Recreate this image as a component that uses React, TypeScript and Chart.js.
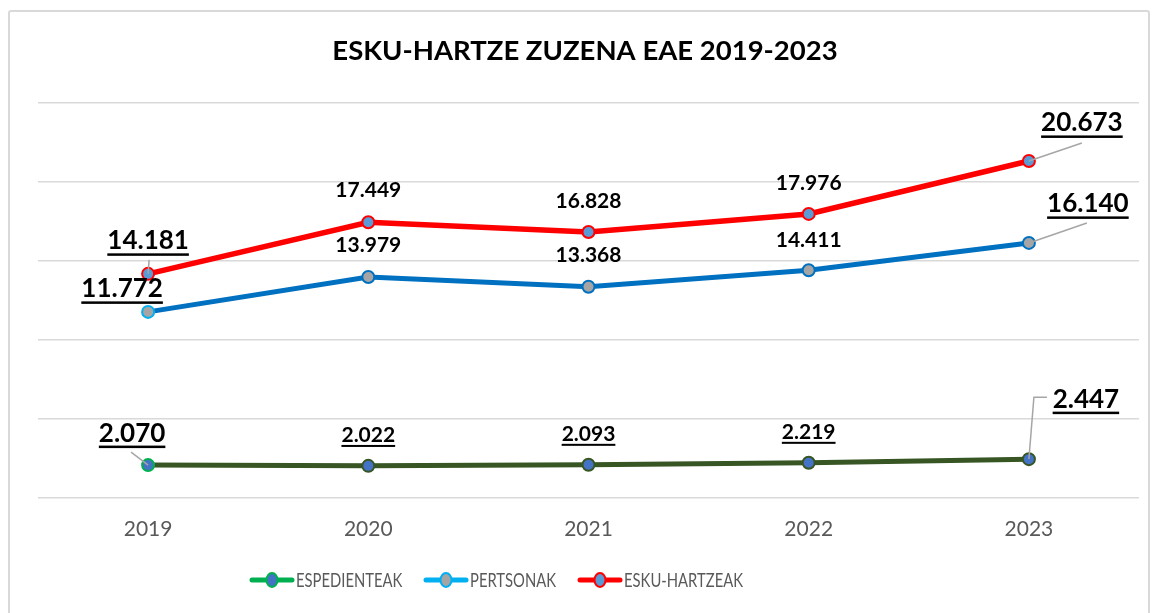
import React, { useEffect, useRef } from "react";
import { Chart, registerables } from "chart.js";

Chart.register(...registerables);

const YEARS = ["2019", "2020", "2021", "2022", "2023"];
const ESPEDIENTEAK = [2070, 2022, 2093, 2219, 2447];
const PERTSONAK = [11772, 13979, 13368, 14411, 16140];
const ESKU_HARTZEAK = [14181, 17449, 16828, 17976, 21330];
const ESPEDIENTEAK_LABELS = ["2.070", "2.022", "2.093", "2.219", "2.447"];
const PERTSONAK_LABELS = ["11.772", "13.979", "13.368", "14.411", "16.140"];
const ESKU_HARTZEAK_LABELS = ["14.181", "17.449", "16.828", "17.976", "20.673"];
const TITLE = "ESKU-HARTZE ZUZENA EAE 2019-2023";
const Y_MAX = 25000;
const Y_STEP = 5000;

const FONT = "Lato, 'Open Sans', sans-serif";

type LabelStyle = {
  dx: number;
  dy: number;
  size: number;
  underline: boolean;
  leader?: number[][];
};

const LABEL_STYLES: LabelStyle[][] = [
  [
    { dx: -16, dy: -32, size: 26, underline: true, leader: [[-17, -13], [0, 0]] },
    { dx: 0, dy: -31, size: 21, underline: true },
    { dx: 0, dy: -31, size: 21, underline: true },
    { dx: 0, dy: -31, size: 21, underline: true },
    { dx: 57, dy: -60, size: 26, underline: true, leader: [[18, -62], [5, -62], [0, 0]] },
  ],
  [
    { dx: -26, dy: -23, size: 26, underline: true },
    { dx: 0, dy: -32, size: 21, underline: false },
    { dx: 0, dy: -31, size: 21, underline: false },
    { dx: 0, dy: -30, size: 21, underline: false },
    { dx: 59, dy: -39, size: 26, underline: true, leader: [[58, -20], [0, 0]] },
  ],
  [
    { dx: 0, dy: -33, size: 26, underline: true, leader: [[1, -14], [0, 0]] },
    { dx: 0, dy: -32, size: 21, underline: false },
    { dx: 0, dy: -31, size: 21, underline: false },
    { dx: 0, dy: -31, size: 21, underline: false },
    { dx: 53, dy: -38, size: 26, underline: true, leader: [[53, -18], [0, 0]] },
  ],
];

const SERIES_LABELS = [ESPEDIENTEAK_LABELS, PERTSONAK_LABELS, ESKU_HARTZEAK_LABELS];

const LEGEND_ITEMS = [
  { text: "ESPEDIENTEAK", line: "#00b050", fill: "#4472c4", border: "#00b050" },
  { text: "PERTSONAK", line: "#00b0f0", fill: "#a5a5a5", border: "#00b0f0" },
  { text: "ESKU-HARTZEAK", line: "#ff0000", fill: "#5b9bd5", border: "#ff0000" },
];

const overlayPlugin = {
  id: "overlay",
  afterDatasetsDraw(chart: any) {
    const ctx = chart.ctx as CanvasRenderingContext2D;
    ctx.save();
    chart.data.datasets.forEach((_ds: any, di: number) => {
      const meta = chart.getDatasetMeta(di);
      meta.data.forEach((pt: any, i: number) => {
        const st = LABEL_STYLES[di][i];
        const txt = SERIES_LABELS[di][i];
        if (st.leader) {
          ctx.strokeStyle = "#a6a6a6";
          ctx.lineWidth = 1.5;
          ctx.beginPath();
          st.leader.forEach((p, k) => {
            const x = pt.x + p[0];
            const y = pt.y + p[1];
            if (k === 0) ctx.moveTo(x, y);
            else ctx.lineTo(x, y);
          });
          ctx.stroke();
        }
        const cx = pt.x + st.dx;
        const cy = pt.y + st.dy;
        ctx.font = `bold ${st.size}px ${FONT}`;
        ctx.fillStyle = "#000000";
        ctx.textAlign = "center";
        ctx.textBaseline = "middle";
        ctx.fillText(txt, cx, cy);
        if (st.underline) {
          const w = ctx.measureText(txt).width;
          ctx.fillRect(cx - w / 2, cy + st.size * 0.48, w, st.size > 22 ? 2.5 : 2);
        }
      });
    });
    ctx.restore();
  },
  afterDraw(chart: any) {
    const ctx = chart.ctx as CanvasRenderingContext2D;
    ctx.save();
    ctx.font = `bold 27.5px ${FONT}`;
    ctx.fillStyle = "#000000";
    ctx.textAlign = "center";
    ctx.textBaseline = "middle";
    ctx.fillText(TITLE, 575, 39);
    const y = 568;
    const starts = [242, 416, 570];
    LEGEND_ITEMS.forEach((it, i) => {
      const x0 = starts[i];
      ctx.strokeStyle = it.line;
      ctx.lineWidth = 5;
      ctx.lineCap = "round";
      ctx.beginPath();
      ctx.moveTo(x0, y);
      ctx.lineTo(x0 + 40, y);
      ctx.stroke();
      ctx.beginPath();
      ctx.fillStyle = it.fill;
      ctx.strokeStyle = it.border;
      ctx.lineWidth = 2;
      ctx.ellipse(x0 + 20, y, 5.5, 7, 0, 0, Math.PI * 2);
      ctx.fill();
      ctx.stroke();
      ctx.save();
      ctx.translate(x0 + 44, y + 1);
      ctx.scale(0.8, 1);
      ctx.font = `18.5px ${FONT}`;
      ctx.fillStyle = "#595959";
      ctx.textAlign = "left";
      ctx.textBaseline = "middle";
      ctx.fillText(it.text, 0, 0);
      ctx.restore();
    });
    ctx.restore();
  },
};

export default function App() {
  const ref = useRef<HTMLCanvasElement | null>(null);
  useEffect(() => {
    if (!ref.current) return;
    const chart = new Chart(ref.current, {
      type: "line",
      data: {
        labels: YEARS,
        datasets: [
          {
            label: "ESPEDIENTEAK",
            data: ESPEDIENTEAK,
            borderColor: "#375623",
            borderWidth: 5,
            pointBackgroundColor: "#4472c4",
            pointBorderColor: ["#00b050", "#375623", "#375623", "#375623", "#375623"],
            pointBorderWidth: 2,
            pointRadius: 6,
            tension: 0,
          },
          {
            label: "PERTSONAK",
            data: PERTSONAK,
            borderColor: "#0070c0",
            borderWidth: 5,
            pointBackgroundColor: "#a5a5a5",
            pointBorderColor: ["#00b0f0", "#0070c0", "#0070c0", "#0070c0", "#0070c0"],
            pointBorderWidth: 2,
            pointRadius: 6,
            tension: 0,
          },
          {
            label: "ESKU-HARTZEAK",
            data: ESKU_HARTZEAK,
            borderColor: "#ff0000",
            borderWidth: 5.5,
            pointBackgroundColor: "#5b9bd5",
            pointBorderColor: "#ff0000",
            pointBorderWidth: 2,
            pointRadius: 6,
            tension: 0,
          },
        ],
      },
      options: {
        animation: false,
        responsive: true,
        maintainAspectRatio: false,
        layout: { padding: { left: 28, right: 9, top: 91, bottom: 65 } },
        plugins: {
          legend: { display: false },
          title: { display: false },
          tooltip: { enabled: false },
        },
        scales: {
          x: {
            offset: true,
            grid: { display: false },
            border: { display: false },
            ticks: {
              color: "#595959",
              font: { family: FONT, size: 21 },
              padding: 11,
            },
          },
          y: {
            min: 0,
            max: Y_MAX,
            ticks: { display: false, stepSize: Y_STEP },
            border: { display: false },
            grid: { color: "#d9d9d9", lineWidth: 1.5, drawTicks: false },
          },
        },
      },
      plugins: [overlayPlugin],
    });
    return () => chart.destroy();
  }, []);
  return (
    <div
      style={{
        position: "fixed",
        left: 8,
        top: 10,
        width: 1142,
        height: 610,
        border: "2px solid #d9d9d9",
        borderRadius: 3,
        background: "#ffffff",
        boxSizing: "border-box",
      }}
    >
      <canvas ref={ref} />
    </div>
  );
}
